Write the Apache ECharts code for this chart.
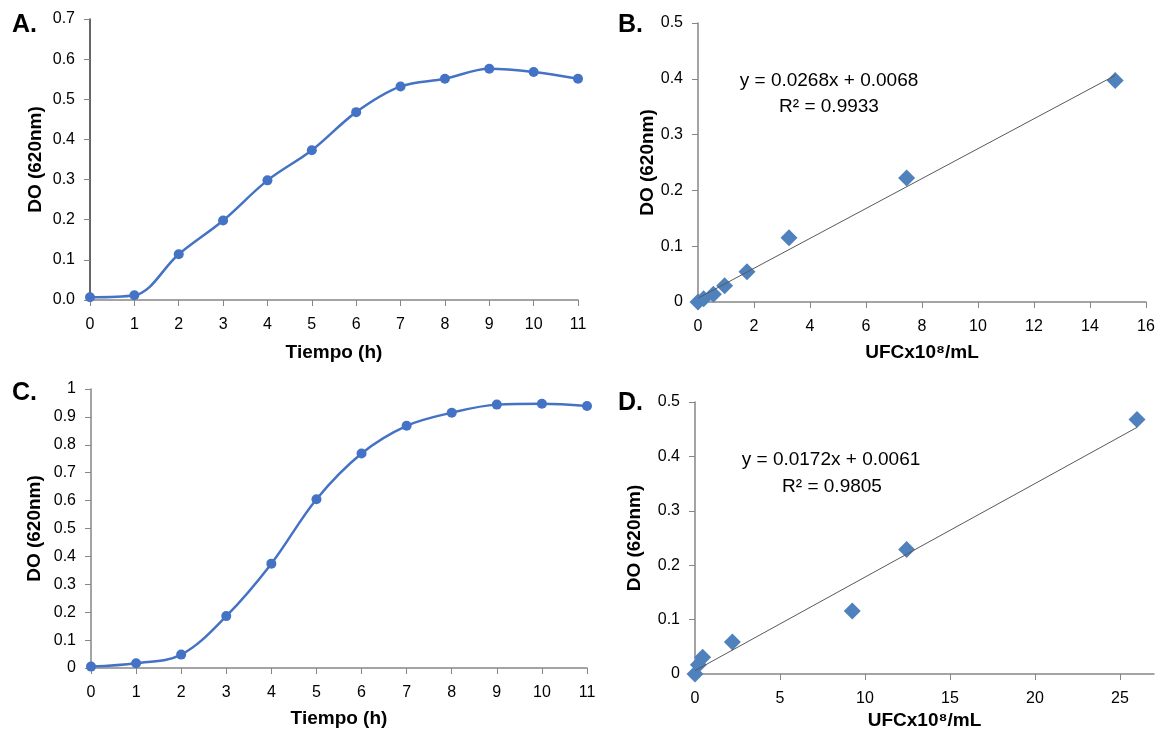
<!DOCTYPE html>
<html>
<head>
<meta charset="utf-8">
<title>Curvas de crecimiento y calibración</title>
<script src="https://cdn.jsdelivr.net/npm/echarts@6/dist/echarts.min.js"></script>
<style>
  html, body { margin: 0; padding: 0; background: #fff; }
  #chart { width: 1162px; height: 740px; }
</style>
</head>
<body>
<div id="chart"></div>
<script>
'use strict';

// panel A: growth curve (DO vs time)
const hoursA = [0, 1, 2, 3, 4, 5, 6, 7, 8, 9, 10, 11];
const doA = [0.007, 0.012, 0.114, 0.198, 0.298, 0.373, 0.468, 0.532, 0.551, 0.576, 0.568, 0.551];

// panel B: calibration DO vs UFC
const ufcB = [0, 0.2, 0.55, 0.95, 1.75, 3.25, 7.45, 14.9];
const doB = [0, 0.006, 0.014, 0.029, 0.054, 0.115, 0.222, 0.397];
const fitB = { slope: 0.0268, intercept: 0.0068, r2: '0.9933' };

// panel C: growth curve (DO vs time)
const hoursC = [0, 1, 2, 3, 4, 5, 6, 7, 8, 9, 10, 11];
const doC = [0.005, 0.017, 0.048, 0.186, 0.374, 0.605, 0.769, 0.868, 0.915, 0.944, 0.947, 0.939];

// panel D: calibration DO vs UFC
const ufcD = [0, 0.2, 0.45, 2.2, 9.25, 12.45, 26.0];
const doD = [0, 0.017, 0.031, 0.059, 0.116, 0.229, 0.468];
const fitD = { slope: 0.0172, intercept: 0.0061, r2: '0.9805' };

const FONT = '"Liberation Sans", Arial, sans-serif';
const LINE_BLUE = '#4472C4';
const DIAMOND_BLUE = '#4F81BD';
const AXIS_GREY = '#868686';
const TICK_FONT = 16;

function pairs(xs, ys) {
  return xs.map((x, i) => [x, ys[i]]);
}

function trend(xs, fit) {
  const lo = Math.min(...xs), hi = Math.max(...xs);
  return [[lo, fit.slope * lo + fit.intercept], [hi, fit.slope * hi + fit.intercept]];
}

function xAxis(idx, max, interval, name, gap, extra) {
  return Object.assign({
    type: 'value', gridIndex: idx, min: 0, max: max, interval: interval,
    name: name, nameLocation: 'middle', nameGap: gap,
    nameTextStyle: { fontFamily: FONT, fontSize: 19, fontWeight: 'bold', color: '#000' },
    axisLine: { show: true, lineStyle: { color: AXIS_GREY, width: 1.5 } },
    axisTick: { show: true, inside: false, length: 6, lineStyle: { color: AXIS_GREY } },
    axisLabel: { fontFamily: FONT, fontSize: TICK_FONT, color: '#000', margin: 17 },
    splitLine: { show: false }
  }, extra || {});
}

function yAxis(idx, max, name, gap, extra) {
  return Object.assign({
    type: 'value', gridIndex: idx, min: 0, max: max, interval: 0.1,
    name: name, nameLocation: 'middle', nameGap: gap,
    nameTextStyle: { fontFamily: FONT, fontSize: 19, fontWeight: 'bold', color: '#000' },
    axisLine: { show: true, lineStyle: { color: AXIS_GREY, width: 1.5 } },
    axisTick: { show: true, inside: false, length: 6, lineStyle: { color: AXIS_GREY } },
    axisLabel: { fontFamily: FONT, fontSize: TICK_FONT, color: '#000', margin: 15,
      formatter: v => String(Math.round(v * 10) / 10) },
    splitLine: { show: false }
  }, extra || {});
}

function label(text, x, y, size, weight, align) {
  return {
    type: 'text', x: x, y: y,
    style: { text: text, fontFamily: FONT, fontSize: size, fontWeight: weight || 'normal',
      fill: '#000', textAlign: align || 'left', textVerticalAlign: 'bottom' }
  };
}

const chart = echarts.init(document.getElementById('chart'), null, { renderer: 'canvas' });

chart.setOption({
  backgroundColor: '#fff',
  animation: false,
  grid: [
    { left: 90, top: 19, width: 488, height: 281 },
    { left: 698, top: 23, width: 448, height: 279 },
    { left: 91, top: 389, width: 496, height: 279 },
    { left: 695, top: 402, width: 459, height: 272 }
  ],
  xAxis: [
    xAxis(0, 11, 1, 'Tiempo (h)', 43),
    xAxis(1, 16, 2, 'UFCx10⁸/mL', 41),
    xAxis(2, 11, 1, 'Tiempo (h)', 41),
    xAxis(3, 27, 5, 'UFCx10⁸/mL', 37, { axisLabel: { fontFamily: FONT, fontSize: TICK_FONT, color: '#000', margin: 17, showMaxLabel: false } })
  ],
  yAxis: [
    yAxis(0, 0.7, 'DO (620nm)', 45, {
      axisLine: { show: true, lineStyle: { color: '#333', width: 1.5 } },
      axisLabel: { fontFamily: FONT, fontSize: TICK_FONT, color: '#000', margin: 15, formatter: v => v.toFixed(1) }
    }),
    yAxis(1, 0.5, 'DO (620nm)', 41),
    yAxis(2, 1, 'DO (620nm)', 47),
    yAxis(3, 0.5, 'DO (620nm)', 51)
  ],
  series: [
    {
      type: 'line', xAxisIndex: 0, yAxisIndex: 0, data: pairs(hoursA, doA),
      smooth: 0.35, symbol: 'circle', symbolSize: 10,
      lineStyle: { color: LINE_BLUE, width: 2.5 }, itemStyle: { color: LINE_BLUE }
    },
    {
      type: 'line', xAxisIndex: 1, yAxisIndex: 1, data: trend(ufcB, fitB),
      symbol: 'none', lineStyle: { color: '#595959', width: 1 }
    },
    {
      type: 'scatter', xAxisIndex: 1, yAxisIndex: 1, data: pairs(ufcB, doB),
      symbol: 'diamond', symbolSize: [17, 17], itemStyle: { color: DIAMOND_BLUE, opacity: 1 }
    },
    {
      type: 'line', xAxisIndex: 2, yAxisIndex: 2, data: pairs(hoursC, doC),
      smooth: 0.35, symbol: 'circle', symbolSize: 10,
      lineStyle: { color: LINE_BLUE, width: 2.5 }, itemStyle: { color: LINE_BLUE }
    },
    {
      type: 'line', xAxisIndex: 3, yAxisIndex: 3, data: trend(ufcD, fitD),
      symbol: 'none', lineStyle: { color: '#595959', width: 1 }
    },
    {
      type: 'scatter', xAxisIndex: 3, yAxisIndex: 3, data: pairs(ufcD, doD),
      symbol: 'diamond', symbolSize: [17, 17], itemStyle: { color: DIAMOND_BLUE, opacity: 1 }
    }
  ],
  graphic: [
    label('A.', 12, 38, 25, 'bold'),
    label('B.', 618, 38, 25, 'bold'),
    label('C.', 12, 406, 25, 'bold'),
    label('D.', 618, 416, 25, 'bold'),
    label(`y = ${fitB.slope}x + ${fitB.intercept}`, 829, 90, 19, 'normal', 'center'),
    label(`R² = ${fitB.r2}`, 829, 116, 19, 'normal', 'center'),
    label(`y = ${fitD.slope}x + ${fitD.intercept}`, 831, 469, 19, 'normal', 'center'),
    label(`R² = ${fitD.r2}`, 832, 496, 19, 'normal', 'center')
  ]
});
</script>
</body>
</html>
